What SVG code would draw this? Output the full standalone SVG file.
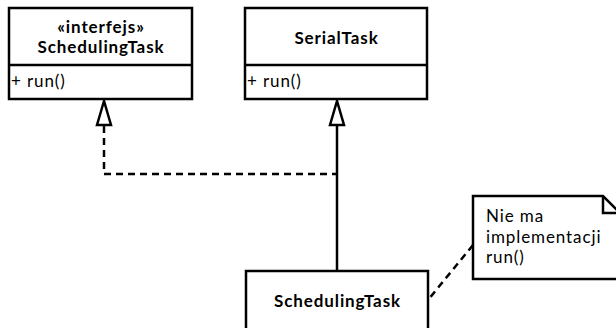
<svg xmlns="http://www.w3.org/2000/svg" width="616" height="328" viewBox="0 0 616 328">
<style>
.box{fill:#fff;stroke:#000;stroke-width:2.5}
.ln{fill:none;stroke:#000;stroke-width:2.5}
.dash{fill:none;stroke:#000;stroke-width:2.5;stroke-dasharray:7,5}
.tri{fill:#fff;stroke:#000;stroke-width:2.5}
.t{font-family:Lato,"Open Sans",sans-serif;font-size:17px;letter-spacing:0.9px;fill:#000}
.b{font-weight:bold;text-anchor:middle;font-size:17px}
</style>
<rect width="616" height="328" fill="#fff"/>
<g id="connectors">
<polyline class="dash" points="104,126 104,174 337,174"/>
<line class="ln" x1="337" y1="126" x2="337" y2="271"/>
<polygon class="tri" points="104,101 97,125 111,125"/>
<polygon class="tri" points="337,101 330,125 344,125"/>
<line class="dash" x1="473" y1="245" x2="428" y2="300"/>
</g>
<g id="SchedulingTaskInterface">
<rect class="box" x="9" y="8" width="183" height="91"/>
<line class="ln" x1="9" y1="65" x2="192" y2="65"/>
<text class="t b" x="101" y="33">«interfejs»</text>
<text class="t b" x="101" y="53">SchedulingTask</text>
<text class="t" x="11" y="87">+ run()</text>
</g>
<g id="SerialTask">
<rect class="box" x="245" y="8" width="182" height="91"/>
<line class="ln" x1="245" y1="65" x2="427" y2="65"/>
<text class="t b" x="336.5" y="44">SerialTask</text>
<text class="t" x="247" y="87">+ run()</text>
</g>
<g id="SchedulingTask">
<rect class="box" x="246" y="271" width="182" height="70"/>
<text class="t b" x="337.5" y="307">SchedulingTask</text>
</g>
<g id="note">
<polygon class="box" points="473,196 603,196 620,213 620,279 473,279"/>
<polyline class="ln" points="603,196 603,213 620,213"/>
<text class="t" x="486" y="222">Nie ma</text>
<text class="t" x="486" y="243">implementacji</text>
<text class="t" x="486" y="263">run()</text>
</g>
</svg>
